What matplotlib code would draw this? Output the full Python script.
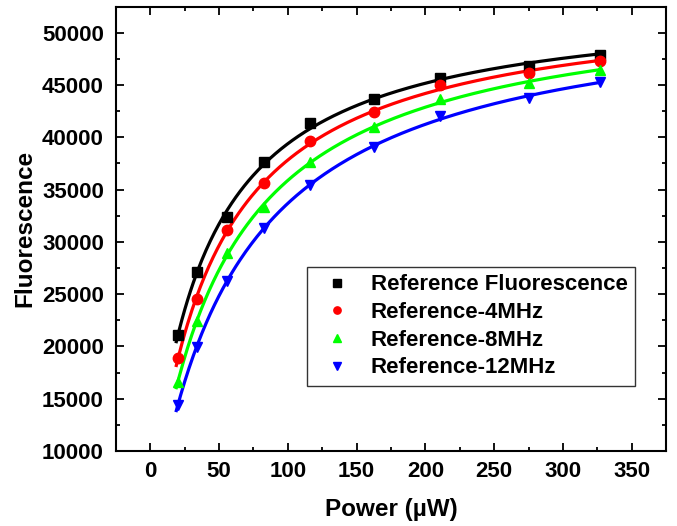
import numpy as np
import matplotlib.pyplot as plt
from matplotlib.ticker import MultipleLocator

plt.rcParams['font.family'] = ['Liberation Sans', 'DejaVu Sans']
plt.rcParams['font.weight'] = 'bold'

# ----- measured fluorescence vs excitation power -----
power = [20, 34, 56, 82.5, 116.5, 163, 210.5, 275, 327]
ref_fluo = [21100, 27100, 32400, 37600, 41350, 43700, 45650, 46850, 47850]
ref_4mhz = [18900, 24500, 31100, 35600, 39650, 42450, 44950, 46100, 47250]
ref_8mhz = [16600, 22400, 28900, 33350, 37650, 41000, 43650, 45150, 46400]
ref_12mhz = [14400, 19950, 26300, 31350, 35450, 39100, 42000, 43800, 45250]

labels = ['Reference Fluorescence', 'Reference-4MHz', 'Reference-8MHz', 'Reference-12MHz']
colors = ['black', 'red', '#00ff00', 'blue']
markers = ['s', 'o', '^', 'v']


def saturation_fit(x, y):
    # F = a*P/(b+P) + c ; linear least squares in a, c for each trial b
    x = np.asarray(x, float)
    y = np.asarray(y, float)
    best = None
    for b in np.linspace(5, 400, 2000):
        A = np.column_stack([x / (b + x), np.ones_like(x)])
        coef, res, _, _ = np.linalg.lstsq(A, y, rcond=None)
        err = np.sum((A @ coef - y) ** 2)
        if best is None or err < best[0]:
            best = (err, b, coef)
    _, b, (a, c) = best
    return lambda p: a * p / (b + p) + c


fig = plt.figure(figsize=(6.77, 5.26), dpi=100)
ax = fig.add_axes([0.171, 0.1426, 0.813, 0.845])

xfit = np.linspace(19, 327, 300)
for ys, col, mk, lab in zip([ref_fluo, ref_4mhz, ref_8mhz, ref_12mhz], colors, markers, labels):
    f = saturation_fit(power, ys)
    ax.plot(xfit, f(xfit), color=col, lw=2.3, zorder=2)
    ax.plot(power, ys, ls='none', marker=mk, color=col, ms=7.5, label=lab, zorder=3)

ax.set_xlim(-25, 375)
ax.set_ylim(10000, 52500)
ax.xaxis.set_major_locator(MultipleLocator(50))
ax.xaxis.set_minor_locator(MultipleLocator(25))
ax.yaxis.set_major_locator(MultipleLocator(5000))
ax.yaxis.set_minor_locator(MultipleLocator(2500))
ax.tick_params(which='both', direction='in', top=True, right=True, width=1.3, labelsize=16)
ax.tick_params(axis='y', pad=8.5)
ax.tick_params(axis='x', pad=7)
ax.tick_params(which='major', length=6)
ax.tick_params(which='minor', length=3)
for s in ax.spines.values():
    s.set_linewidth(1.5)

ax.set_xlabel('Power (µW)', fontsize=17.5, fontweight='bold', labelpad=12)
ax.set_ylabel('Fluorescence', fontsize=17.5, fontweight='bold', labelpad=4)

leg = ax.legend(loc='lower left', bbox_to_anchor=(0.348, 0.146), fontsize=16,
                markerscale=0.7, frameon=True, fancybox=False, edgecolor='black',
                borderpad=0.35, labelspacing=0.3, handletextpad=0.5, borderaxespad=0)
leg.get_frame().set_linewidth(1.0)
for t in leg.get_texts():
    t.set_fontweight('bold')

fig.savefig('out.png', dpi=100)
